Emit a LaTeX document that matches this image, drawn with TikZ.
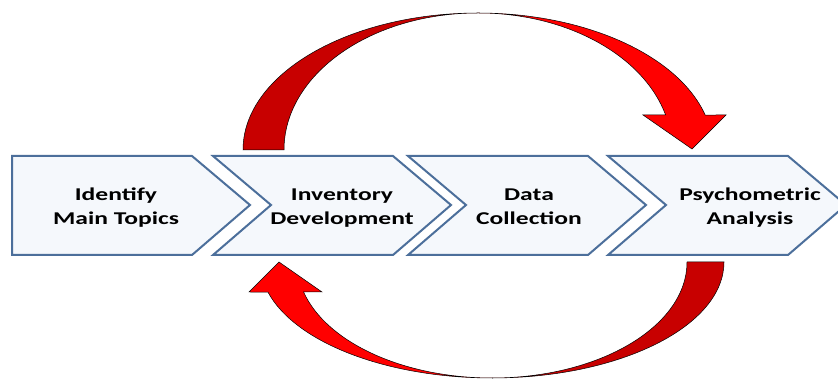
\documentclass[tikz,border=0pt]{standalone}
\usepackage{fontspec}
\setmainfont{Carlito}
\usepackage{tikz}
\usetikzlibrary{%
  arrows,%
  calc%
}
\tikzset{>=latex}
\definecolor{chevfill}{HTML}{F5F8FC}
\definecolor{chevline}{HTML}{4C6F9B}
\definecolor{darkred}{HTML}{C80000}
\definecolor{brightred}{HTML}{FF0000}
\newcommand{\steptext}[2]{\scalebox{1.42}[1]{\begin{tabular}{@{}c@{}}#1\\#2\end{tabular}}}

\begin{document}
\begin{tikzpicture}[x=1pt,y=1pt,
    chev/.style={draw=chevline,fill=chevfill,line width=2pt,line join=miter},
    loopshape/.style={draw=black,line width=0.5pt,line join=miter},
    lbl/.style={font=\fontsize{18}{24}\selectfont\bfseries,inner sep=0pt}]
        \useasboundingbox (0,0) rectangle (838,380);
        % process chevrons
        \draw[chev] (12,224) -- (192,224) -- (250,175) -- (192,125) --
        (12,125) -- cycle;
        \draw[chev] (213,224) -- (393,224) -- (451,175) -- (393,125) --
        (213,125) -- (271,175) -- cycle;
        \draw[chev] (408,224) -- (588,224) -- (646,175) -- (588,125) --
        (408,125) -- (466,175) -- cycle;
        \draw[chev] (608,224) -- (788,224) -- (846,175) -- (788,125) --
        (608,125) -- (666,175) -- cycle;
        \node[lbl] (topics) at (116,172) {\steptext{Identify}{Main Topics}};
        \node[lbl] (invent) at (342,172) {\steptext{Inventory}{Development}};
        \node[lbl] (collect) at (529,172) {\steptext{Data}{Collection}};
        \node[lbl] (psycho) at (750,172) {\steptext{Psychometric}{Analysis}};
        % upper arrow
        \draw[loopshape,fill=darkred] (243,230) arc[start angle=180,end angle=90,
        x radius=235,y radius=137] arc[start angle=90,end angle=180,
        x radius=194,y radius=137] -- cycle;
        \draw[loopshape,fill=brightred] (478,367) arc[start angle=90,end angle=14.8,
        x radius=235,y radius=137] -- (726,265) -- (692,231) -- (643,265) --
        (665.6,265) arc[start angle=14.8,end angle=90,x radius=194,
        y radius=137] -- cycle;
        % lower arrow
        \draw[loopshape,fill=darkred] (724,118) arc[start angle=0,end angle=-90,
        x radius=232,y radius=116] arc[start angle=-90,end angle=0,
        x radius=195,y radius=116] -- cycle;
        \draw[loopshape,fill=brightred] (492,2) arc[start angle=-90,end angle=-165,
        x radius=232,y radius=116] -- (249,88) -- (279,118) -- (322,88) --
        (303.6,88) arc[start angle=-165,end angle=-90,x radius=195,
        y radius=116] -- cycle;
      \end{tikzpicture}
\end{document}
